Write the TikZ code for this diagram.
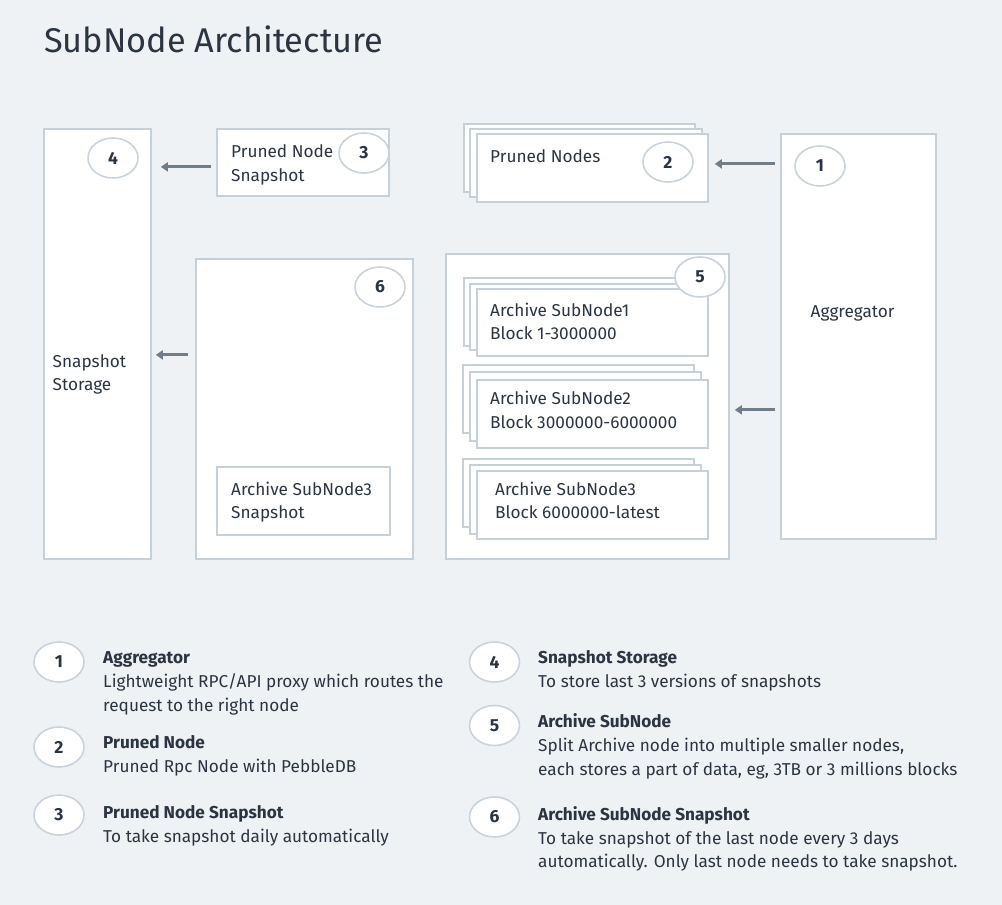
\documentclass[tikz,border=0pt]{standalone}
\usepackage{fontspec}
\setmainfont{Fira Sans}
\usetikzlibrary{shapes.geometric,arrows.meta,calc}
\definecolor{bgcol}{HTML}{EFF2F5}
\definecolor{bordercol}{HTML}{C6D0D9}
\definecolor{badgecol}{HTML}{CAD3DC}
\definecolor{textcol}{HTML}{2B3440}
\definecolor{arrowcol}{HTML}{717D89}
\tikzset{
  boxnode/.style={draw=bordercol, line width=1.8pt, fill=white, inner sep=0pt, anchor=north west},
  badge/.style={ellipse, draw=badgecol, line width=1.6pt, fill=white, minimum width=50pt, minimum height=40pt, inner sep=0pt, text=textcol, font=\bfseries\fontsize{17.5}{17.5}\selectfont},
  txt/.style={anchor=base west, inner sep=0pt, text=textcol, font=\fontsize{17.2}{17.2}\selectfont},
  btxt/.style={txt, font=\bfseries\fontsize{17.2}{17.2}\selectfont},
  flow/.style={draw=arrowcol, line width=3pt, -{Triangle[length=7pt,width=9pt]}},
}
\newcommand{\bx}[5]{\node[boxnode, minimum width=#4-#2, minimum height=#5-#3] (#1) at (#2,#3) {};}
\begin{document}
\begin{tikzpicture}[x=1pt,y=-1pt]
\fill[bgcol] (0,0) rectangle (1002,905);
\useasboundingbox (0,0) rectangle (1002,905);
% title
\node[anchor=base west, inner sep=0pt, text=textcol, font=\fontsize{34.3}{34.3}\selectfont] (title) at (44,52) {SubNode Architecture};

% snapshot storage
\bx{ss}{43}{128}{150}{558}
\node[badge] (b4) at (113,158) {4};
\node[txt] (sst1) at (52.5,367) {Snapshot};
\node[txt] (sst2) at (52.5,390.5) {Storage};

% pruned node snapshot
\bx{pns}{216}{128}{388}{195}
\node[txt] (pnst1) at (231,157) {Pruned Node};
\node[txt] (pnst2) at (231,181) {Snapshot};
\node[badge] (b3) at (364,153) {3};

% pruned nodes stack
\bx{pnA}{463}{123}{694}{191}
\bx{pnB}{469}{128}{701}{196}
\bx{pn}{476}{133}{707}{201}
\node[txt] (pnt) at (490,162) {Pruned Nodes};
\node[badge] (b2) at (668,162) {2};

% aggregator
\bx{agg}{780}{133}{935}{538}
\node[badge] (b1) at (820,166) {1};
\node[txt] (aggt) at (810.5,317) {Aggregator};

% archive snapshot box 6
\bx{as}{195}{258}{412}{558}
\node[badge] (b6) at (380,287) {6};
\bx{as3}{216}{466}{389}{534}
\node[txt] (as3t1) at (231,495) {Archive SubNode3};
\node[txt] (as3t2) at (231,518.5) {Snapshot};

% archive subnodes container
\bx{arc}{445}{253}{728}{558}
% stack 1
\bx{s1A}{463}{277}{694}{345}
\bx{s1B}{469}{283}{701}{349}
\bx{s1}{476}{288}{707}{355}
\node[txt] (s1t1) at (490,316) {Archive SubNode1};
\node[txt] (s1t2) at (490,339.5) {Block 1-3000000};
% stack 2
\bx{s2A}{462}{364}{693}{432}
\bx{s2B}{469}{371}{700}{440}
\bx{s2}{476}{379}{707}{447}
\node[txt] (s2t1) at (490,404) {Archive SubNode2};
\node[txt] (s2t2) at (490,428) {Block 3000000-6000000};
% stack 3
\bx{s3A}{462}{458}{693}{526}
\bx{s3B}{469}{464}{700}{533}
\bx{s3}{476}{470}{707}{538}
\node[txt] (s3t1) at (495,495) {Archive SubNode3};
\node[txt] (s3t2) at (495,518.5) {Block 6000000-latest};
\node[badge] (b5) at (700,277) {5};

% arrow anchor points
\coordinate (a1s) at ($(pns.west)+(0,4.5)$);
\coordinate (a1e) at (ss.east |- a1s);
\coordinate (a2e) at ($(pn.east)+(0,-4)$);
\coordinate (a2s) at (agg.west |- a2e);
\coordinate (a3s) at ($(as.west)+(0,-54)$);
\coordinate (a3e) at (ss.east |- a3s);
\coordinate (a4e) at ($(arc.east)+(0,3.5)$);
\coordinate (a4s) at (agg.west |- a4e);
% arrows
\draw[flow, shorten <=5pt, shorten >=9pt] (a1s) -- (a1e);
\draw[flow, shorten <=5pt, shorten >=6pt] (a2s) -- (a2e);
\draw[flow, shorten <=7pt, shorten >=4pt] (a3s) -- (a3e);
\draw[flow, shorten <=5pt, shorten >=5pt] (a4s) -- (a4e);

% legend left
\node[badge] (l1) at (59,662) {1};
\node[btxt] (l1h) at (103,663.5) {Aggregator};
\node[txt] (l1a) at (103,687.5) {Lightweight RPC/API proxy which routes the};
\node[txt] (l1b) at (103,711) {request to the right node};
\node[badge] (l2) at (59,747) {2};
\node[btxt] (l2h) at (103,748.5) {Pruned Node};
\node[txt] (l2a) at (103,772.5) {Pruned Rpc Node with PebbleDB};
\node[badge] (l3) at (59,815) {3};
\node[btxt] (l3h) at (103,818.5) {Pruned Node Snapshot};
\node[txt] (l3a) at (103,842) {To take snapshot daily automatically};

% legend right
\node[badge] (l4) at (494.5,662) {4};
\node[btxt] (l4h) at (538,663.5) {Snapshot Storage};
\node[txt] (l4a) at (538,687.5) {To store last 3 versions of snapshots};
\node[badge] (l5) at (494.5,725.5) {5};
\node[btxt] (l5h) at (538,727.5) {Archive SubNode};
\node[txt] (l5a) at (538,751.5) {Split Archive node into multiple smaller nodes,};
\node[txt] (l5b) at (538,775.5) {each stores a part of data, eg, 3TB or 3 millions blocks};
\node[badge] (l6) at (494.5,817) {6};
\node[btxt] (l6h) at (538,820) {Archive SubNode Snapshot};
\node[txt] (l6a) at (538,844) {To take snapshot of the last node every 3 days};
\node[txt] (l6b) at (538,867.5) {automatically. Only last node needs to take snapshot.};
\end{tikzpicture}
\end{document}
